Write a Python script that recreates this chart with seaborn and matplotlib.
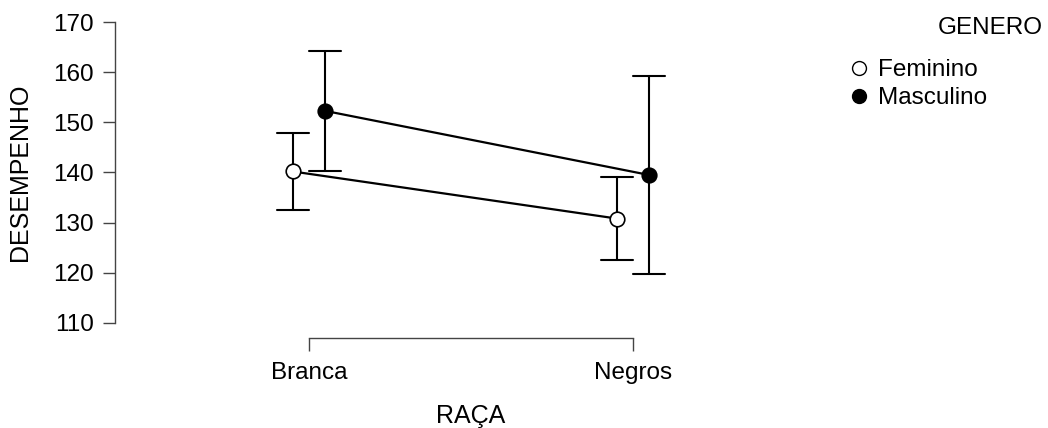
import numpy as np
import pandas as pd
import seaborn as sns
import matplotlib.pyplot as plt
from matplotlib.lines import Line2D

sns.set_style("white")
plt.rcParams['font.family'] = ['Liberation Sans', 'DejaVu Sans']
plt.rcParams['text.color'] = 'black'
plt.rcParams['axes.labelcolor'] = 'black'
plt.rcParams['xtick.labelcolor'] = 'black'
plt.rcParams['ytick.labelcolor'] = 'black'

raca = ['Branca', 'Negros']
genero = ['Feminino', 'Masculino']
# mean, lower CI, upper CI per (genero, raca)
media = {'Feminino': [140.2, 130.8], 'Masculino': [152.3, 139.5]}
ci_low = {'Feminino': [132.5, 122.5], 'Masculino': [140.2, 119.8]}
ci_high = {'Feminino': [147.8, 139.0], 'Masculino': [164.3, 159.3]}

rows = []
for g in genero:
    for i, r in enumerate(raca):
        for v in (ci_low[g][i], media[g][i], ci_high[g][i]):
            rows.append([r, g, v])
df = pd.DataFrame(rows, columns=['RAÇA', 'GENERO', 'DESEMPENHO'])

fig = plt.figure(figsize=(10.48, 4.28), dpi=100)
ax = fig.add_axes([115/1048, 1-338/428, (760-115)/1048, (338-20)/428])

sns.pointplot(data=df, x='RAÇA', y='DESEMPENHO', hue='GENERO', order=raca,
              hue_order=genero, estimator='median',
              errorbar=lambda x: (x.min(), x.max()),
              dodge=0.1, palette=['black', 'black'], markers=['o', 'o'],
              capsize=0.1, err_kws={'linewidth': 1.5}, linewidth=1.6,
              markersize=10.5, ax=ax, legend=False)

# Feminino points are hollow
for ln in ax.lines:
    if ln.get_marker() == 'o':
        ln.set_zorder(5)
        if np.allclose(np.asarray(ln.get_ydata(), float), media['Feminino']):
            ln.set_markerfacecolor('white')
            ln.set_markeredgecolor('black')

ax.set_xlim(-0.599, 1.392)
ax.set_ylim(106.94, 170.46)
ax.set_yticks(np.arange(110, 171, 10))
for s in ['top', 'right']:
    ax.spines[s].set_visible(False)
ax.spines['left'].set_bounds(110, 170)
ax.spines['bottom'].set_bounds(0, 1)
for s in ['left', 'bottom']:
    ax.spines[s].set_color('#444444')
    ax.spines[s].set_linewidth(1)
ax.tick_params(axis='both', direction='out', length=9, width=1, color='#444444',
               labelsize=17.5, pad=6, left=True, bottom=True)
ax.tick_params(axis='x', pad=8)
ax.set_xlabel('RAÇA', fontsize=18)
ax.set_ylabel('DESEMPENHO', fontsize=18)
ax.xaxis.set_label_coords(0.552, -0.2075)
ax.yaxis.set_label_coords(-0.129, 0.522)

handles = [Line2D([], [], marker='o', linestyle='none', markersize=10,
                  markerfacecolor='white', markeredgecolor='black'),
           Line2D([], [], marker='o', linestyle='none', markersize=10,
                  markerfacecolor='black', markeredgecolor='black')]
fig.legend(handles, genero, loc='upper left', bbox_to_anchor=(832/1048, 1-47/428),
           frameon=False, fontsize=17.5, handletextpad=0.2, labelspacing=0.25,
           handlelength=1.2, borderpad=0)
fig.text(1043/1048, 1-28/428, 'GENERO', ha='right', va='center', fontsize=17.5)

fig.savefig('out.png', dpi=100)
